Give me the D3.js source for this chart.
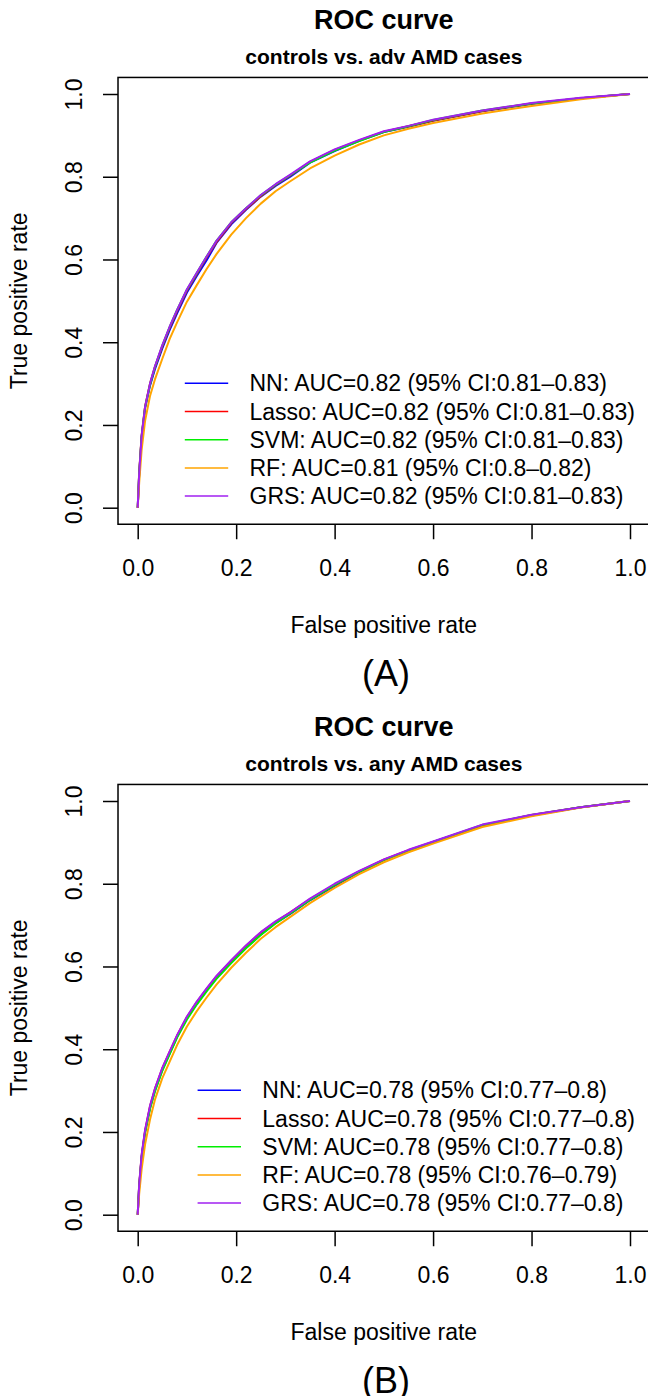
<!DOCTYPE html>
<html>
<head>
<meta charset="utf-8">
<script src="https://cdn.jsdelivr.net/npm/d3@7"></script>
<style>
  html, body { margin: 0; padding: 0; background: #fff; }
  svg { display: block; }
  text { font-family: "Liberation Sans", Arial, Helvetica, sans-serif; fill: #000; }
</style>
</head>
<body>
<svg id="chart" width="648" height="1396"></svg>
<script>
// ---------------- DATA ----------------
const panelTitles = ["ROC curve", "ROC curve"];
const panelSubtitles = ["controls vs. adv AMD cases", "controls vs. any AMD cases"];
const panelTags = ["(A)", "(B)"];
const xAxisTitle = "False positive rate";
const yAxisTitle = "True positive rate";
const tickValues = [0, 0.2, 0.4, 0.6, 0.8, 1.0];
const tickLabels = ["0.0", "0.2", "0.4", "0.6", "0.8", "1.0"];

const seriesNames = ["NN", "Lasso", "SVM", "RF", "GRS"];
const seriesColors = ["#0000FF", "#FF0000", "#00EE00", "#FFA500", "#A020F0"];

const legendA = [
  "NN: AUC=0.82 (95% CI:0.81\u20130.83)",
  "Lasso: AUC=0.82 (95% CI:0.81\u20130.83)",
  "SVM: AUC=0.82 (95% CI:0.81\u20130.83)",
  "RF: AUC=0.81 (95% CI:0.8\u20130.82)",
  "GRS: AUC=0.82 (95% CI:0.81\u20130.83)"
];
const legendB = [
  "NN: AUC=0.78 (95% CI:0.77\u20130.8)",
  "Lasso: AUC=0.78 (95% CI:0.77\u20130.8)",
  "SVM: AUC=0.78 (95% CI:0.77\u20130.8)",
  "RF: AUC=0.78 (95% CI:0.76\u20130.79)",
  "GRS: AUC=0.78 (95% CI:0.77\u20130.8)"
];

// false positive rates at which the curves were read
const fprA = [0, 0.003, 0.008, 0.015, 0.025, 0.035, 0.05, 0.065, 0.08, 0.1, 0.12, 0.14, 0.16, 0.19, 0.22, 0.25, 0.28, 0.31, 0.35, 0.4, 0.45, 0.5, 0.55, 0.6, 0.7, 0.8, 0.9, 1.0];
// panel A true positive rates
const tprA_NN    = [0, 0.08, 0.17, 0.24, 0.295, 0.335, 0.385, 0.43, 0.47, 0.52, 0.56, 0.598, 0.64, 0.685, 0.72, 0.752, 0.778, 0.8, 0.834, 0.862, 0.887, 0.908, 0.921, 0.935, 0.958, 0.976, 0.99, 1.0];
const tprA_Lasso = [0, 0.085, 0.175, 0.245, 0.3, 0.34, 0.39, 0.435, 0.475, 0.525, 0.565, 0.605, 0.642, 0.688, 0.722, 0.753, 0.78, 0.803, 0.836, 0.865, 0.888, 0.909, 0.922, 0.936, 0.959, 0.977, 0.99, 1.0];
const tprA_SVM   = [0, 0.082, 0.172, 0.243, 0.298, 0.34, 0.392, 0.437, 0.478, 0.527, 0.567, 0.607, 0.645, 0.69, 0.724, 0.755, 0.781, 0.804, 0.834, 0.863, 0.886, 0.908, 0.922, 0.937, 0.96, 0.977, 0.99, 1.0];
const tprA_RF    = [0, 0.06, 0.14, 0.21, 0.27, 0.31, 0.36, 0.408, 0.448, 0.498, 0.538, 0.577, 0.613, 0.66, 0.7, 0.735, 0.765, 0.789, 0.82, 0.851, 0.878, 0.9, 0.916, 0.93, 0.953, 0.971, 0.987, 1.0];
const tprA_GRS   = [0, 0.083, 0.174, 0.244, 0.3, 0.342, 0.393, 0.438, 0.478, 0.528, 0.568, 0.607, 0.645, 0.69, 0.724, 0.756, 0.782, 0.805, 0.837, 0.866, 0.889, 0.91, 0.923, 0.938, 0.96, 0.978, 0.991, 1.0];

const fprB = [0, 0.003, 0.008, 0.015, 0.025, 0.035, 0.05, 0.065, 0.08, 0.1, 0.12, 0.14, 0.16, 0.19, 0.22, 0.25, 0.28, 0.31, 0.35, 0.4, 0.45, 0.5, 0.55, 0.6, 0.7, 0.8, 0.9, 1.0];
// panel B true positive rates
const tprB_NN    = [0, 0.07, 0.14, 0.2, 0.258, 0.3, 0.35, 0.39, 0.43, 0.475, 0.51, 0.542, 0.572, 0.61, 0.645, 0.677, 0.705, 0.727, 0.76, 0.795, 0.828, 0.857, 0.88, 0.9, 0.94, 0.965, 0.985, 1.0];
const tprB_Lasso = [0, 0.072, 0.143, 0.203, 0.262, 0.304, 0.354, 0.394, 0.433, 0.478, 0.514, 0.546, 0.576, 0.614, 0.65, 0.682, 0.708, 0.731, 0.763, 0.798, 0.83, 0.858, 0.881, 0.901, 0.941, 0.966, 0.985, 1.0];
const tprB_SVM   = [0, 0.068, 0.138, 0.198, 0.256, 0.298, 0.348, 0.388, 0.428, 0.472, 0.508, 0.54, 0.57, 0.608, 0.644, 0.676, 0.704, 0.728, 0.761, 0.797, 0.829, 0.857, 0.88, 0.901, 0.942, 0.966, 0.985, 1.0];
const tprB_RF    = [0, 0.05, 0.11, 0.17, 0.23, 0.278, 0.33, 0.37, 0.41, 0.455, 0.492, 0.525, 0.556, 0.597, 0.633, 0.667, 0.695, 0.72, 0.753, 0.79, 0.823, 0.852, 0.876, 0.897, 0.937, 0.963, 0.984, 1.0];
const tprB_GRS   = [0, 0.073, 0.145, 0.205, 0.263, 0.305, 0.355, 0.395, 0.434, 0.479, 0.515, 0.547, 0.577, 0.615, 0.651, 0.683, 0.709, 0.731, 0.764, 0.8, 0.831, 0.859, 0.882, 0.902, 0.943, 0.967, 0.985, 1.0];

// ---------------- DRAW ----------------
const svg = d3.select("#chart");
const FONT = 23;

const panels = [
  { off: 0,   fpr: fprA, tprs: [tprA_NN, tprA_Lasso, tprA_SVM, tprA_RF, tprA_GRS], legend: legendA, title: panelTitles[0], sub: panelSubtitles[0], tag: panelTags[0] },
  { off: 707, fpr: fprB, tprs: [tprB_NN, tprB_Lasso, tprB_SVM, tprB_RF, tprB_GRS], legend: legendB, title: panelTitles[1], sub: panelSubtitles[1], tag: panelTags[1] }
];

const x = d3.scaleLinear().domain([0, 1]).range([137.7, 630]);

panels.forEach(p => {
  const g = svg.append("g").attr("transform", `translate(0,${p.off})`);
  const y = d3.scaleLinear().domain([0, 1]).range([507.7, 94]);

  const left = x(-0.04), right = x(1.04), top = y(1.04), bottom = y(-0.04);
  const cx = (left + right) / 2;

  // titles
  g.append("text").attr("x", cx).attr("y", 29).attr("text-anchor", "middle")
    .style("font-size", "27px").style("font-weight", "bold").text(p.title);
  g.append("text").attr("x", cx).attr("y", 63.5).attr("text-anchor", "middle")
    .style("font-size", "21px").style("font-weight", "bold").text(p.sub);

  // curves
  const line = d3.line().x(d => x(d[0])).y(d => y(d[1]));
  p.tprs.forEach((tpr, i) => {
    const pts = p.fpr.map((f, k) => [f, tpr[k]]);
    g.append("path").datum(pts).attr("d", line)
      .attr("fill", "none").attr("stroke", seriesColors[i])
      .attr("stroke-width", 2).attr("stroke-linejoin", "round");
  });

  // box
  g.append("rect").attr("x", left).attr("y", top)
    .attr("width", right - left).attr("height", bottom - top)
    .attr("fill", "none").attr("stroke", "#000").attr("stroke-width", 1.5);

  // x axis
  const xAxis = d3.axisBottom(x).tickValues(tickValues)
    .tickFormat((d, i) => tickLabels[i]).tickSize(15).tickSizeOuter(0);
  const gx = g.append("g").attr("transform", `translate(0,${bottom})`).call(xAxis);
  gx.select(".domain").remove();
  gx.selectAll(".tick line").attr("stroke", "#000").attr("stroke-width", 1.5);
  gx.selectAll(".tick text").attr("y", 52).attr("dy", null)
    .style("font-size", FONT + "px").style("font-family", null).attr("fill", "#000");

  // y axis
  const yAxis = d3.axisLeft(y).tickValues(tickValues)
    .tickFormat((d, i) => tickLabels[i]).tickSize(15).tickSizeOuter(0);
  const gy = g.append("g").attr("transform", `translate(${left},0)`).call(yAxis);
  gy.select(".domain").remove();
  gy.selectAll(".tick line").attr("stroke", "#000").attr("stroke-width", 1.5);
  gy.selectAll(".tick text").attr("x", null).attr("dy", null)
    .attr("text-anchor", "middle").attr("transform", "translate(-36,0) rotate(-90)")
    .style("font-size", FONT + "px").style("font-family", null).attr("fill", "#000");

  // axis titles
  g.append("text").attr("x", cx).attr("y", 632.5).attr("text-anchor", "middle")
    .style("font-size", FONT + "px").text(xAxisTitle);
  g.append("text").attr("transform", `translate(27,${(top + bottom) / 2}) rotate(-90)`)
    .attr("text-anchor", "middle").style("font-size", FONT + "px").text(yAxisTitle);

  // legend
  const lg = g.append("g");
  const texts = p.legend.map((t, i) =>
    lg.append("text").attr("y", 383.3 + i * 28.2).attr("dy", "0.35em")
      .style("font-size", FONT + "px").text(t));
  const maxW = d3.max(texts, t => t.node().getComputedTextLength());
  const tx = 635 - maxW;
  texts.forEach(t => t.attr("x", tx));
  p.legend.forEach((t, i) => {
    lg.append("line").attr("x1", tx - 64.7).attr("x2", tx - 21.3)
      .attr("y1", 383.3 + i * 28.2).attr("y2", 383.3 + i * 28.2)
      .attr("stroke", seriesColors[i]).attr("stroke-width", 1.5);
  });

  // panel tag
  g.append("text").attr("x", 386).attr("y", 686).attr("text-anchor", "middle")
    .style("font-size", "36px").text(p.tag);
});
</script>
</body>
</html>
